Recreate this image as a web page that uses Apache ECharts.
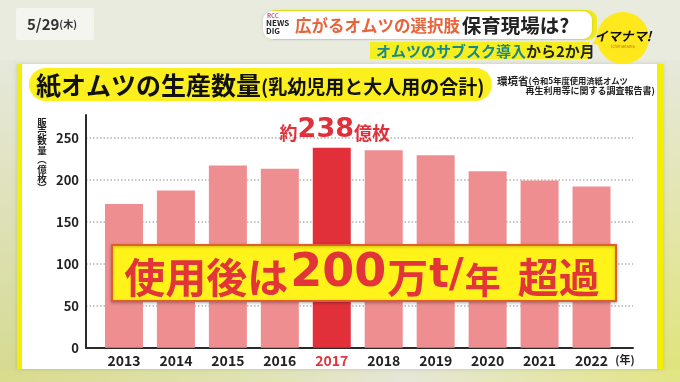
<!DOCTYPE html>
<html><head><meta charset="utf-8">
<script src="https://cdn.jsdelivr.net/npm/echarts@6/dist/echarts.min.js"></script>
<style>html,body{margin:0;padding:0;background:#e9ebdf}#c{width:680px;height:382px}</style>
</head><body><div id="c"></div>
<script>
// ---- data ----
const years = ['2013','2014','2015','2016','2017','2018','2019','2020','2021','2022'];
const production = [171, 187, 217, 213, 238, 235, 229, 210, 199, 192];
const highlightYear = '2017';
const yMin = 0, yMax = 277, yStep = 50;
const titleMain = '紙オムツの生産数量';
const titleSub = '(乳幼児用と大人用の合計)';
const sourceHead = '環境省';
const sourceLine1 = '(令和5年度使用済紙オムツ';
const sourceLine2 = '再生利用等に関する調査報告書)';
const yName = ['販','売','数','量','︵','億','枚','︶'];
const xUnit = '(年)';
const calloutParts = ['使用後は', '200', '万', 't/', '年', '超過'];
const headerOrange = '広がるオムツの選択肢';
const headerBlack = '保育現場は?';
const subTeal = 'オムツのサブスク導入';
const subBlack = 'から2か月';
const dateMain = '5/29', dateDay = '(木)';

// ---- styles ----
const JP = '"Noto Sans CJK JP", "Noto Sans", sans-serif';
const PINK = '#ee8e91', RED = '#e1303a', YEL = '#fbf01e';

const yNameEls = yName.map((ch, i) => ({
  type: 'text', z: -5,
  style: {x: 42, y: 122 + i * 9.4, text: ch, align: 'center', textAlign: 'center',
    verticalAlign: 'middle', textVerticalAlign: 'middle', fontSize: 9.5, fontWeight: 'bold', fontFamily: JP, fill: '#222'}
}));

const chart = echarts.init(document.getElementById('c'));
chart.setOption({
  backgroundColor: '#e9ebdf',
  animation: false,
  grid: [
    {left: 86, right: 47, top: 115, bottom: 34.3},
    {left: 98, right: 62.5, top: 115, bottom: 34.3}
  ],
  xAxis: [
    {gridIndex: 0, type: 'value', min: 0, max: 1, axisLine: {show: true, onZero: false, lineStyle: {color: '#2a2a2a', width: 2}},
     axisTick: {show: false}, axisLabel: {show: false}, splitLine: {show: false}},
    {gridIndex: 1, type: 'category', data: years, axisLine: {show: false}, axisTick: {show: false},
     axisLabel: {margin: 6, fontSize: 14, fontWeight: 'bold', fontFamily: JP,
       color: (v) => v === highlightYear ? '#d8383e' : '#222'}}
  ],
  yAxis: [
    {gridIndex: 0, type: 'value', min: yMin, max: yMax, interval: yStep,
     axisLine: {show: true, lineStyle: {color: '#2a2a2a', width: 2}}, axisTick: {show: false},
     axisLabel: {margin: 7, fontSize: 13, fontWeight: 'bold', fontFamily: JP, color: '#222', showMaxLabel: false},
     splitLine: {show: true, showMinLine: false, showMaxLine: false, lineStyle: {color: '#b3b3b3', width: 1.5, type: [1.5, 2]}}},
    {gridIndex: 1, type: 'value', min: yMin, max: yMax, show: false, splitLine: {show: false}}
  ],
  series: [{
    type: 'bar', xAxisIndex: 1, yAxisIndex: 1, barWidth: 38,
    itemStyle: {color: PINK},
    data: production.map((v, i) => years[i] === highlightYear ? {
      value: v, itemStyle: {color: RED},
      label: {show: true, position: 'top', distance: 4, offset: [3, 0],
        formatter: (p) => '{a|約}{b|' + p.value + '}{a|億枚}',
        rich: {
          a: {fontSize: 18, fontWeight: 'bold', fontFamily: JP, color: RED, verticalAlign: 'bottom', lineHeight: 26, padding: [0, 0, 2, 0]},
          b: {fontSize: 27, fontWeight: 'bold', fontFamily: '"DejaVu Sans", sans-serif', color: RED, verticalAlign: 'bottom', lineHeight: 26}
        }}
    } : v)
  }],
  graphic: [
    // surrounding decoration
    {type: 'rect', z: -20, shape: {x: 0, y: 362, width: 680, height: 20},
     style: {fill: new echarts.graphic.LinearGradient(0, 0, 1, 0, [
       {offset: 0, color: '#d9dc8c'}, {offset: 0.35, color: '#dfe2b0'}, {offset: 0.6, color: '#e6e7d6'}, {offset: 1, color: '#e2e583'}])}},
    {type: 'rect', z: -20, shape: {x: 0, y: 60, width: 18, height: 310},
     style: {fill: new echarts.graphic.LinearGradient(0, 0, 0, 1, [{offset: 0, color: '#e6e8dc'}, {offset: 1, color: '#d6da92'}])}},
    {type: 'rect', z: -20, shape: {x: 662, y: 60, width: 18, height: 310},
     style: {fill: new echarts.graphic.LinearGradient(0, 0, 0, 1, [{offset: 0, color: '#e6e8dc'}, {offset: 1, color: '#e0e47c'}])}},
    // panel
    {type: 'rect', z: -15, shape: {x: 17, y: 64, width: 646, height: 305},
     style: {fill: '#ffffff', shadowBlur: 4, shadowColor: 'rgba(0,0,0,0.15)'}},
    {type: 'rect', z: -14, shape: {x: 17, y: 64, width: 5, height: 305}, style: {fill: '#f3ef00'}},
    {type: 'rect', z: -14, shape: {x: 657, y: 64, width: 6, height: 305}, style: {fill: '#f3ef00'}},
    // title pill
    {type: 'rect', z: -10, shape: {x: 29, y: 68, width: 463, height: 33, r: 16.5}, style: {fill: YEL}},
    {type: 'text', z: -5, style: {x: 36, y: 85, text: '{a|' + titleMain + '}{b|' + titleSub + '}',
      verticalAlign: 'middle', textVerticalAlign: 'middle',
      rich: {a: {fontSize: 25, fontWeight: 'bold', fontFamily: JP, fill: '#111', color: '#111', verticalAlign: 'bottom'},
             b: {fontSize: 19, fontWeight: 'bold', fontFamily: JP, fill: '#111', color: '#111', verticalAlign: 'bottom', padding: [0, 0, 1, 0]}}}},
    // source
    {type: 'text', z: -5, style: {x: 497, y: 81, text: '{a|' + sourceHead + '}{b|' + sourceLine1 + '}',
      verticalAlign: 'middle', textVerticalAlign: 'middle',
      rich: {a: {fontSize: 10.5, fontWeight: 'bold', fontFamily: JP, fill: '#222', color: '#222'},
             b: {fontSize: 8.3, fontWeight: 'bold', fontFamily: JP, fill: '#222', color: '#222'}}}},
    {type: 'text', z: -5, style: {x: 655, y: 91, text: sourceLine2, align: 'right', textAlign: 'right',
      verticalAlign: 'middle', textVerticalAlign: 'middle', fontSize: 9, fontWeight: 'bold', fontFamily: JP, fill: '#222'}},
    // y axis name (vertical)
    ...yNameEls,
    // x unit
    {type: 'text', z: -5, style: {x: 625, y: 360, text: xUnit, align: 'center', textAlign: 'center',
      verticalAlign: 'middle', textVerticalAlign: 'middle', fontSize: 11, fontWeight: 'bold', fontFamily: JP, fill: '#222'}},
    // callout box
    {type: 'rect', z: 100, shape: {x: 112, y: 245, width: 504, height: 56},
     style: {fill: '#fff31a', stroke: '#e0602c', lineWidth: 2, shadowBlur: 3, shadowOffsetY: 1, shadowColor: 'rgba(0,0,0,0.25)'}},
    {type: 'text', z: 101, style: {x: 362, y: 274, align: 'center', textAlign: 'center', verticalAlign: 'middle', textVerticalAlign: 'middle',
      text: '{a|' + calloutParts[0] + '}{b|' + calloutParts[1] + '}{a|' + calloutParts[2] + '}{c|' + calloutParts[3] + '}{d|' + calloutParts[4] + '}{s|}{a|' + calloutParts[5] + '}',
      rich: {
        a: {fontSize: 41, fontWeight: 'bold', fontFamily: JP, fill: '#e2353a', color: '#e2353a', verticalAlign: 'bottom', lineHeight: 48},
        b: {fontSize: 46, fontWeight: 'bold', fontFamily: '"DejaVu Sans", sans-serif', fill: '#e2353a', color: '#e2353a', verticalAlign: 'bottom', lineHeight: 48, padding: [0, 1, 1, 2]},
        c: {fontSize: 41, fontWeight: 'bold', fontFamily: '"DejaVu Sans", sans-serif', fill: '#e2353a', color: '#e2353a', verticalAlign: 'bottom', lineHeight: 48, padding: [0, 1, 1, 1]},
        d: {fontSize: 36, fontWeight: 'bold', fontFamily: JP, fill: '#e2353a', color: '#e2353a', verticalAlign: 'bottom', lineHeight: 46},
        s: {width: 17, height: 10, verticalAlign: 'bottom'}
      }}},
    // header: date
    {type: 'rect', z: -10, shape: {x: 16, y: 8, width: 78, height: 32, r: 2}, style: {fill: '#f4f5ee'}},
    {type: 'text', z: -5, style: {x: 27, y: 24, text: '{a|' + dateMain + '}{b|' + dateDay + '}', verticalAlign: 'middle', textVerticalAlign: 'middle',
      rich: {a: {fontSize: 15, fontWeight: 'bold', fontFamily: JP, fill: '#333', color: '#333'},
             b: {fontSize: 10, fontWeight: 'bold', fontFamily: JP, fill: '#333', color: '#333'}}}},
    // header bubble
    {type: 'rect', z: -10, shape: {x: 266, y: 10, width: 331, height: 30, r: 9}, style: {fill: '#f1ea1c'}},
    {type: 'rect', z: -9, shape: {x: 263, y: 11, width: 329, height: 28, r: 9}, style: {fill: '#ffffff', shadowBlur: 3, shadowColor: 'rgba(0,0,0,0.15)'}},
    {type: 'text', z: -5, style: {x: 267, y: 13, text: 'RCC', fontSize: 6, fontWeight: 'bold', fontFamily: JP, fill: '#d2508a'}},
    {type: 'text', z: -5, style: {x: 266, y: 19, text: 'NEWS\nDIG', fontSize: 8, lineHeight: 8, fontWeight: 'bold', fontFamily: JP, fill: '#222'}},
    {type: 'text', z: -5, style: {x: 295, y: 26, text: '{a|' + headerOrange + '}{s| }{b|' + headerBlack + '}', verticalAlign: 'middle', textVerticalAlign: 'middle',
      rich: {a: {fontSize: 16.5, fontWeight: 'bold', fontFamily: JP, fill: '#e8643a', color: '#e8643a'},
             s: {fontSize: 6},
             b: {fontSize: 19.5, fontWeight: 'bold', fontFamily: JP, fill: '#222', color: '#222'}}}},
    {type: 'rect', z: -9, shape: {x: 370, y: 42, width: 219, height: 17}, style: {fill: '#f5ef22'}},
    {type: 'text', z: -5, style: {x: 376, y: 51, text: '{a|' + subTeal + '}{b|' + subBlack + '}', verticalAlign: 'middle', textVerticalAlign: 'middle',
      rich: {a: {fontSize: 15, fontWeight: 'bold', fontFamily: JP, fill: '#17898c', color: '#17898c'},
             b: {fontSize: 15, fontWeight: 'bold', fontFamily: JP, fill: '#222', color: '#222'}}}},
    // logo circle
    {type: 'circle', z: -9, shape: {cx: 623, cy: 38, r: 26}, style: {fill: '#ffe81c'}},
    {type: 'polygon', z: -9, shape: {points: [[600, 33], [592, 44], [604, 45]]}, style: {fill: '#ffe81c'}},
    {type: 'text', z: -5, style: {x: 623, y: 36, text: 'イマナマ!', align: 'center', textAlign: 'center', verticalAlign: 'middle', textVerticalAlign: 'middle',
      fontSize: 13, fontWeight: 'bold', fontStyle: 'italic', fontFamily: JP, fill: '#111'}},
    {type: 'text', z: -5, style: {x: 623, y: 46, text: 'ichimanama', align: 'center', textAlign: 'center', verticalAlign: 'middle', textVerticalAlign: 'middle',
      fontSize: 4, fontFamily: JP, fill: '#c8701c'}}
  ]
});
</script></body></html>
